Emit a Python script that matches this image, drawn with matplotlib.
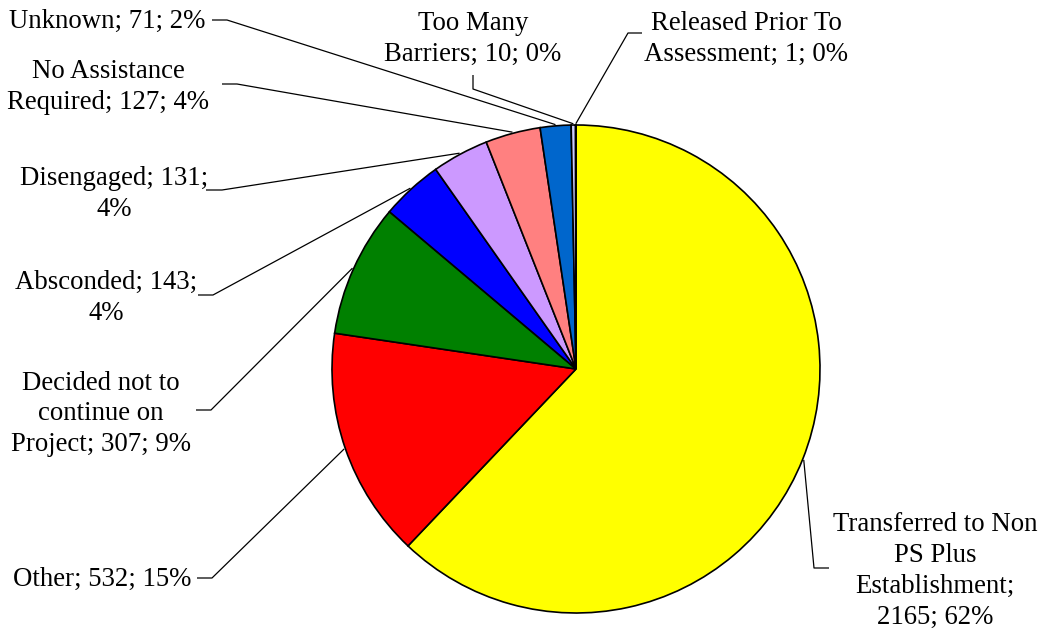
import numpy as np
import matplotlib
matplotlib.use("Agg")
import matplotlib.pyplot as plt

categories = ["Transferred to Non PS Plus Establishment", "Other",
              "Decided not to continue on Project", "Absconded", "Disengaged",
              "No Assistance Required", "Unknown", "Too Many Barriers",
              "Released Prior To Assessment"]
values = [2165, 532, 307, 143, 131, 127, 71, 10, 1]
label_texts = ["Transferred to Non\nPS Plus\nEstablishment;\n2165; 62%",
               "Other; 532; 15%",
               "Decided not to\ncontinue on\nProject; 307; 9%",
               "Absconded; 143;\n4%",
               "Disengaged; 131;\n4%",
               "No Assistance\nRequired; 127; 4%",
               "Unknown; 71; 2%",
               "Too Many\nBarriers; 10; 0%",
               "Released Prior To\nAssessment; 1; 0%"]
colors = ["#FFFF00", "#FF0000", "#008000", "#0000FF", "#CC99FF",
          "#FF8080", "#0066CC", "#CCCCFF", "#FFFFFF"]

W, H = 1040, 631
fig = plt.figure(figsize=(W / 100, H / 100), dpi=100)
ax = fig.add_axes([0, 0, 1, 1])

cx, cy, R = 576, H - 369, 244
wedges, _ = ax.pie(values, colors=colors, startangle=90, counterclock=False,
                   center=(cx, cy), radius=R,
                   wedgeprops=dict(edgecolor="black", linewidth=1.2))
ax.set_xlim(0, W)
ax.set_ylim(0, H)
ax.set_aspect("equal")
ax.axis("off")

# label layout (image px): text center, elbow start, elbow end
layout = [
    ((935, 571), [(829, 568), (814, 568)]),
    ((102, 579), [(197, 578), (212, 578)]),
    ((101, 414), [(196, 410), (211, 410)]),
    ((106, 298), [(198, 295), (213, 295)]),
    ((114, 194), [(206, 190), (222, 190)]),
    ((108, 87), [(222, 84), (237, 84)]),
    ((107, 21), [(212, 20), (227, 20)]),
    ((473, 39), [(473, 75), (473, 89)]),
    ((746, 39), [(642, 33), (628, 33)]),
]

font = ["Liberation Serif", "DejaVu Serif"]
for w, txt, (tc, elbow) in zip(wedges, label_texts, layout):
    ax.text(tc[0], H - tc[1], txt, ha="center", va="center",
            multialignment="center", fontsize=19.3, family=font,
            linespacing=1.3, color="black")
    mid = np.deg2rad((w.theta1 + w.theta2) / 2)
    ex = cx + R * 1.005 * np.cos(mid)
    ey = cy + R * 1.005 * np.sin(mid)
    xs = [elbow[0][0], elbow[1][0], ex]
    ys = [H - elbow[0][1], H - elbow[1][1], ey]
    ax.plot(xs, ys, color="black", lw=0.9, solid_capstyle="butt")

fig.savefig("out.png", dpi=100)
